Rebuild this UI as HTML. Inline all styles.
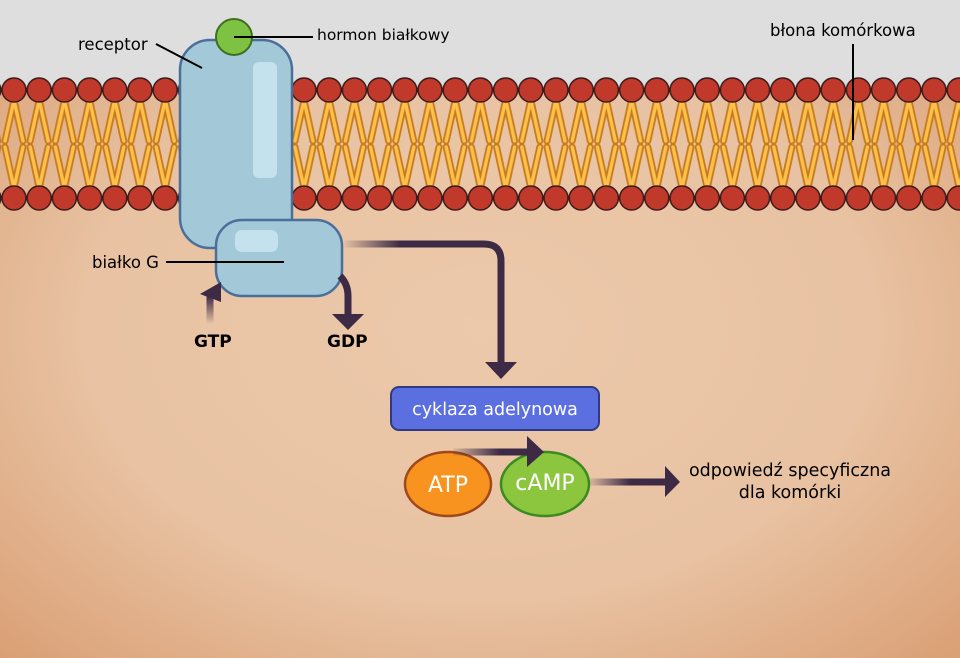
<!DOCTYPE html>
<html><head><meta charset="utf-8"><style>body{margin:0}svg{display:block}</style></head><body>
<svg width="960" height="658" viewBox="0 0 960 658" xmlns="http://www.w3.org/2000/svg" font-family="'DejaVu Sans','Liberation Sans',sans-serif">
<defs>
<radialGradient id="bg" cx="0.5" cy="0.5" r="0.75">
<stop offset="0" stop-color="#ecc9ab"/><stop offset="0.55" stop-color="#e8c2a2"/><stop offset="1" stop-color="#d89a6e"/>
</radialGradient>
<g id="unit">
<g stroke="#c67a1c" stroke-width="7" stroke-linecap="round">
<line x1="12.6" y1="100" x2="3.6" y2="141"/><line x1="12.6" y1="100" x2="21.6" y2="141"/>
<line x1="12.6" y1="188" x2="3.6" y2="147"/><line x1="12.6" y1="188" x2="21.6" y2="147"/>
</g>
<g stroke="#fdc04a" stroke-width="3.4" stroke-linecap="round">
<line x1="12.6" y1="100" x2="3.6" y2="141"/><line x1="12.6" y1="100" x2="21.6" y2="141"/>
<line x1="12.6" y1="188" x2="3.6" y2="147"/><line x1="12.6" y1="188" x2="21.6" y2="147"/>
</g>
<circle cx="12.6" cy="90" r="12" fill="#c0392b" stroke="#3a1a1a" stroke-width="1.5"/>
<circle cx="12.6" cy="198" r="12" fill="#c0392b" stroke="#3a1a1a" stroke-width="1.5"/>
</g>
<pattern id="pL" patternUnits="userSpaceOnUse" x="1.4" y="0" width="25.2" height="658"><use href="#unit"/></pattern>
<pattern id="pR" patternUnits="userSpaceOnUse" x="291.4" y="0" width="25.2" height="658"><use href="#unit"/></pattern>
<linearGradient id="f1" gradientUnits="userSpaceOnUse" x1="342" y1="0" x2="400" y2="0"><stop offset="0" stop-color="#3d2a45" stop-opacity="0"/><stop offset="1" stop-color="#3d2a45"/></linearGradient>
<linearGradient id="f2" gradientUnits="userSpaceOnUse" x1="0" y1="324" x2="0" y2="296"><stop offset="0" stop-color="#3d2a45" stop-opacity="0"/><stop offset="1" stop-color="#3d2a45"/></linearGradient>
<linearGradient id="f3" gradientUnits="userSpaceOnUse" x1="453" y1="0" x2="500" y2="0"><stop offset="0" stop-color="#3d2a45" stop-opacity="0.1"/><stop offset="1" stop-color="#3d2a45"/></linearGradient>
<linearGradient id="f4" gradientUnits="userSpaceOnUse" x1="590" y1="0" x2="630" y2="0"><stop offset="0" stop-color="#3d2a45" stop-opacity="0.1"/><stop offset="1" stop-color="#3d2a45"/></linearGradient>
</defs>
<rect width="960" height="658" fill="url(#bg)"/>
<rect width="960" height="90" fill="#dedede"/>
<rect x="0" y="70" width="180" height="145" fill="url(#pL)"/>
<rect x="292" y="70" width="668" height="145" fill="url(#pR)"/>
<rect x="180" y="40" width="112" height="208" rx="30" fill="#a3c9d8" stroke="#4a6f9a" stroke-width="2.5"/>
<rect x="253" y="62" width="24" height="116" rx="6" fill="#c3e2ee"/>
<rect x="216" y="220" width="126" height="76" rx="26" fill="#a3c9d8" stroke="#4a6f9a" stroke-width="2.5"/>
<rect x="235" y="230" width="43" height="22" rx="7" fill="#c3e2ee"/>
<circle cx="234" cy="37" r="18" fill="#7dc242" stroke="#3f6e1e" stroke-width="2"/>
<line x1="234" y1="37" x2="313" y2="37" stroke="#000" stroke-width="2"/>
<line x1="156" y1="44" x2="202" y2="68" stroke="#000" stroke-width="2"/>
<line x1="166" y1="262" x2="284" y2="262" stroke="#000" stroke-width="2"/>
<line x1="853" y1="44" x2="853" y2="140" stroke="#000" stroke-width="2"/>
<text x="78" y="50" font-size="16.5">receptor</text>
<text x="317" y="40" font-size="15.5">hormon białkowy</text>
<text x="770" y="36" font-size="16.5">błona komórkowa</text>
<text x="92" y="268" font-size="16.5">białko G</text>
<path d="M342 244 H484 Q501 244 501 261 V365" fill="none" stroke="url(#f1)" stroke-width="7"/>
<polygon points="485,362 517,362 501,379" fill="#3d2a45"/>
<path d="M340 276 Q348 284 348 296 V316" fill="none" stroke="#3d2a45" stroke-width="7"/>
<polygon points="332,314 364,314 348,330" fill="#3d2a45"/>
<path d="M210 324 V292" fill="none" stroke="url(#f2)" stroke-width="7"/>
<polygon points="200,294 221,282 221,302" fill="#3d2a45"/>
<text x="194" y="347" font-size="17" font-weight="bold">GTP</text>
<text x="327" y="347" font-size="17" font-weight="bold">GDP</text>
<rect x="391" y="387" width="208" height="43" rx="8" fill="#5b6fe0" stroke="#2f3a80" stroke-width="2"/>
<text x="495" y="415" font-size="17.5" fill="#fff" text-anchor="middle">cyklaza adelynowa</text>
<ellipse cx="448" cy="484" rx="43" ry="32" fill="#f7931e" stroke="#a0481a" stroke-width="2.5"/>
<ellipse cx="545" cy="484" rx="44" ry="32" fill="#8cc63f" stroke="#3a8a20" stroke-width="2.5"/>
<text x="448" y="492" font-size="22" fill="#fff" text-anchor="middle">ATP</text>
<text x="545" y="490" font-size="22" fill="#fff" text-anchor="middle">cAMP</text>
<path d="M453 452 H528" stroke="url(#f3)" stroke-width="7"/>
<polygon points="527,436 544,452 527,467" fill="#3d2a45"/>
<path d="M590 482 H666" stroke="url(#f4)" stroke-width="7"/>
<polygon points="665,466 680,482 665,497" fill="#3d2a45"/>
<text x="790" y="476" font-size="17.5" text-anchor="middle">odpowiedź specyficzna</text>
<text x="790" y="498" font-size="17.5" text-anchor="middle">dla komórki</text>
</svg>
</body></html>
